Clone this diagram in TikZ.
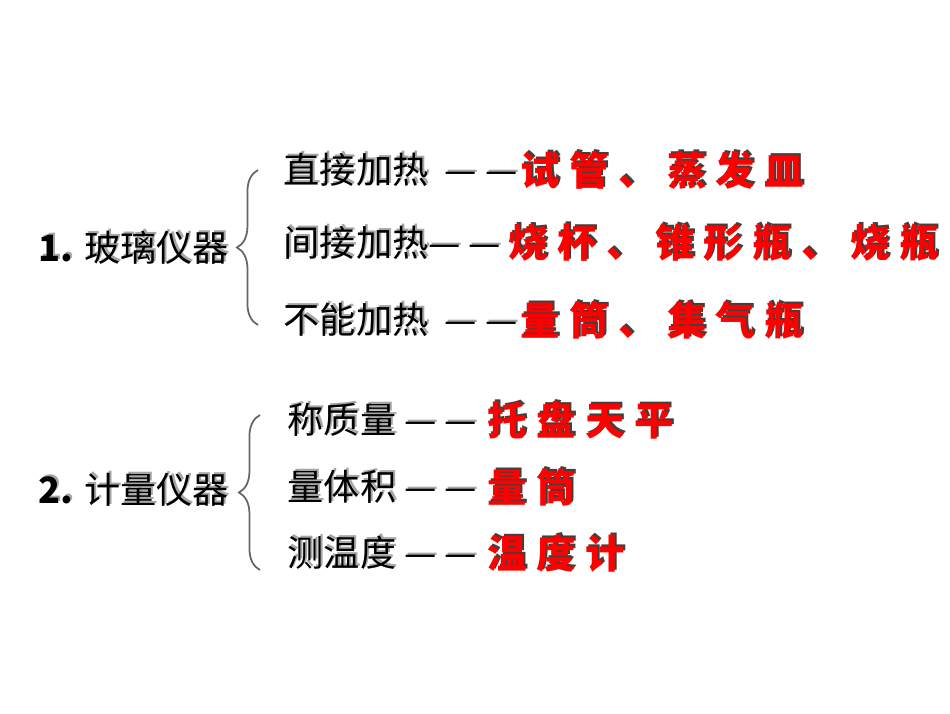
\documentclass[tikz,border=0pt]{standalone}
\usepackage{fontspec}
\newfontfamily\cjk{Noto Sans CJK SC}
\newfontfamily\cjkr{Noto Sans CJK SC}[LetterSpace=24]
\usetikzlibrary{decorations.pathreplacing}
\tikzset{
 t/.style={anchor=west,inner sep=0pt,font=\cjk\fontsize{10.3pt}{11pt}\selectfont,text=black},
 sh/.style={t,text=gray!70},
 r/.style={t,font=\cjkr\bfseries\fontsize{11.2pt}{12pt}\selectfont,text=red},
 rsh/.style={r,text=black!75},
 br/.style={decorate,decoration={brace,amplitude=6pt,mirror},line width=0.5pt,gray!80!black}
}
\newcommand{\stx}[4]{\node[sh] at ([shift={(0.02,-0.02)}]#2) {#4};\node[t] (#1) at (#2) {#4};}
\newcommand{\rtx}[4]{\node[rsh] at ([shift={(0.02,-0.02)}]#2) {#4};\node[r] (#1) at (#2) {#4};}
\begin{document}
\begin{tikzpicture}[y=-1cm]
\useasboundingbox[fill=white] (0,0) rectangle (9.5,7.13);
\stx{g1}{0.38,2.48}{}{\textbf{1.} 玻璃仪器}
\draw[br] (2.58,1.70) -- (2.58,3.25);
\stx{a1}{2.83,1.70}{}{直接加热\ \ — —}
\rtx{b1}{5.20,1.70}{}{试管、蒸发皿}
\stx{a2}{2.83,2.43}{}{间接加热— —}
\rtx{b2}{5.08,2.43}{}{烧杯、锥形瓶、烧瓶}
\stx{a3}{2.83,3.20}{}{不能加热\ \ — —}
\rtx{b3}{5.20,3.20}{}{量筒、集气瓶}
\stx{g2}{0.38,4.90}{}{\textbf{2.} 计量仪器}
\draw[br] (2.60,4.15) -- (2.60,5.70);
\stx{c1}{2.87,4.20}{}{称质量\ — —}
\rtx{d1}{4.87,4.20}{}{托盘天平}
\stx{c2}{2.87,4.87}{}{量体积\ — —}
\rtx{d2}{4.87,4.87}{}{量筒}
\stx{c3}{2.87,5.53}{}{测温度\ — —}
\rtx{d3}{4.87,5.53}{}{温度计}
\end{tikzpicture}
\end{document}
